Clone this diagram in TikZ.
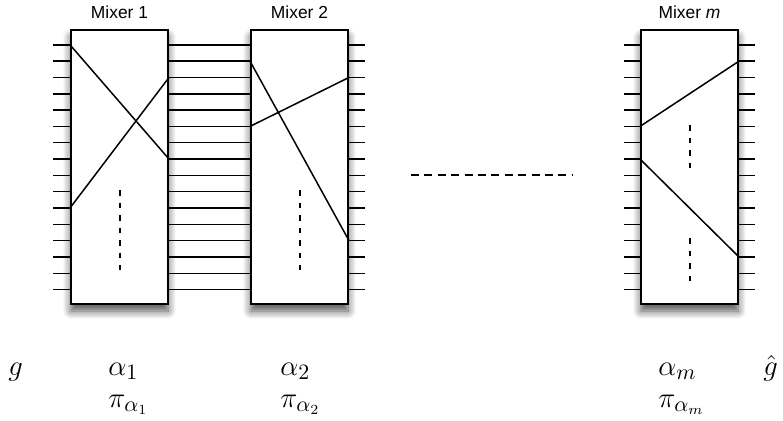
\documentclass[tikz,border=0pt]{standalone}
\usepackage{fontspec}
\newfontfamily\mixerfont{Liberation Sans}
\usetikzlibrary{positioning,calc,shadows.blur}

\begin{document}
\begin{tikzpicture}[
  x=0.5pt, y=-0.5pt,
  mixer/.style={rectangle, draw, line width=1pt, fill=white, minimum width=48.5pt, minimum height=137pt, inner sep=0pt,
    blur shadow={shadow xshift=0pt, shadow yshift=-3.5pt, shadow blur radius=4pt, shadow blur steps=8, shadow opacity=70}},
  wire/.style={line width=0.75pt},
  title/.style={font=\mixerfont\fontsize{8.7}{10}\selectfont, inner sep=1pt},
  lbl/.style={font=\fontsize{15}{17}\selectfont, anchor=base west, inner sep=0pt},
  gap/.style={line width=1pt, dash pattern=on 2.75pt off 3.5pt}
]
\useasboundingbox (0,0) rectangle (783,420);

% Mixer boxes
\node[mixer] (m1) at (119.5,167) {};
\node[mixer, right=40.5pt of m1] (m2) {};
\node[mixer, right=145.5pt of m2] (m3) {};

\node[title, above=4pt of m1] (t1) {Mixer 1};
\node[title, above=4pt of m2] (t2) {Mixer 2};
\node[title, above=4pt of m3] (t3) {Mixer \textit{m}};

% wire positions on both sides of each box
\foreach \b in {m1,m2,m3} {
  \foreach \i in {0,...,15} {
    \coordinate (\b-l\i) at ($(\b.north west)!{(15.7+16.2*\i)/274}!(\b.south west)$);
    \coordinate (\b-r\i) at ($(\b.north east)!{(15.7+16.2*\i)/274}!(\b.south east)$);
  }
}

% wires
\foreach \i in {0,...,15} {
  \draw[wire] (m1-l\i) -- ++(-17,0);
  \draw[wire] (m1-r\i) -- (m2-l\i);
  \draw[wire] (m2-r\i) -- ++(16,0);
  \draw[wire] (m3-l\i) -- ++(-16,0);
  \draw[wire] (m3-r\i) -- ++(16,0);
}

% permutations inside the mixers
\draw[wire] (m1-l0) -- (m1-r7);
\draw[wire] (m1-l10) -- (m1-r2);
\draw[wire] (m2-l1) -- (m2-r12);
\draw[wire] (m2-l5) -- (m2-r2);
\draw[wire] (m3-l5) -- (m3-r1);
\draw[wire] (m3-l7) -- (m3-r13);

% dots for the rest
\draw[gap] ($(m1.north)+(0,161)$) -- ($(m1.north)+(0,241)$);
\draw[gap] ($(m2.north)+(0,161)$) -- ($(m2.north)+(0,241)$);
\draw[gap] ($(m3.north)+(0,96)$) -- ($(m3.north)+(0,145)$);
\draw[gap] ($(m3.north)+(0,209)$) -- ($(m3.north)+(0,259)$);
\draw[gap, line width=0.75pt, dash pattern=on 4pt off 2.7pt] (411,175) -- (573,175);

% labels
\node[lbl] (g) at (8,375) {$g$};
\node[lbl] (a1) at (108,375) {$\alpha_1$};
\node[lbl] (a2) at (280,375) {$\alpha_2$};
\node[lbl] (am) at (658,375) {$\alpha_m$};
\node[lbl] (gh) at (763,375) {$\hat{g}$};
\node[lbl] (p1) at (108,407) {$\pi_{\alpha_1}$};
\node[lbl] (p2) at (280,407) {$\pi_{\alpha_2}$};
\node[lbl] (pm) at (658,407) {$\pi_{\alpha_m}$};

\end{tikzpicture}
\end{document}
